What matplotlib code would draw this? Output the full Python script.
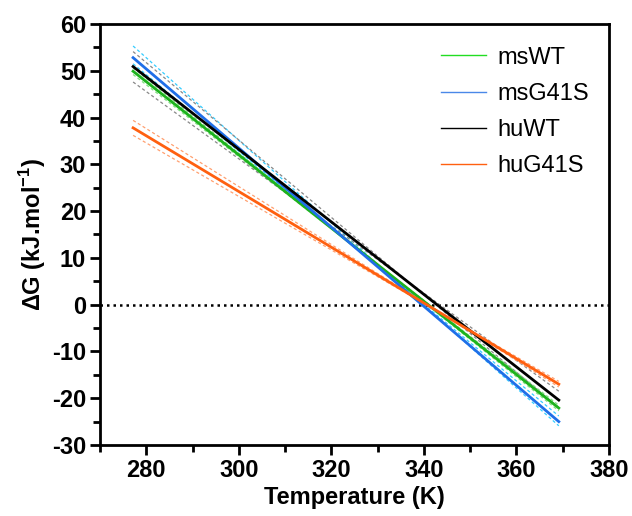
import matplotlib
matplotlib.use("Agg")
import matplotlib.pyplot as plt
from matplotlib.ticker import MultipleLocator

plt.rcParams['font.family'] = ['Liberation Sans', 'DejaVu Sans']
plt.rcParams['axes.unicode_minus'] = False
plt.rcParams['mathtext.fontset'] = 'custom'
plt.rcParams['mathtext.rm'] = 'Liberation Sans'
plt.rcParams['mathtext.bf'] = 'Liberation Sans:bold'

# Temperature range (K)
T_range = [277.15, 369.15]

labels = ["msWT", "msG41S", "huWT", "huG41S"]
colors = ["#1db31d", "#1f6fe8", "#000000", "#ff6010"]
legend_colors = ["#22dd22", "#4a88e8", "#000000", "#ff6010"]

# Fitted line values at the two temperature ends (kJ/mol)
fit_start = [49.9, 52.8, 50.9, 37.8]
fit_end = [-22.1, -25.0, -20.4, -17.0]

# Dashed error lines (two per series) at the ends
err_colors = ["#7fe07f", "#33ccff", "#888888", "#ffa070"]
err_a_start = [50.6, 55.3, 54.1, 39.4]
err_a_end = [-22.7, -25.9, -22.0, -17.6]
err_b_start = [49.2, 51.5, 47.6, 36.2]
err_b_end = [-21.5, -23.8, -18.5, -16.4]

fig = plt.figure(figsize=(6.32, 5.16), dpi=100)
ax = fig.add_axes([100/632, 1-445/516, 509/632, 421/516])

for i in range(4):
    ax.plot(T_range, [err_a_start[i], err_a_end[i]], color=err_colors[i],
            lw=0.9, ls=(0, (2.5, 2)), zorder=2)
    ax.plot(T_range, [err_b_start[i], err_b_end[i]], color=err_colors[i],
            lw=0.9, ls=(0, (2.5, 2)), zorder=2)

handles = []
for i in range(4):
    ax.plot(T_range, [fit_start[i], fit_end[i]], color=colors[i], lw=2.0, zorder=3)
    h, = ax.plot([], [], color=legend_colors[i], lw=1.0, label=labels[i])
    handles.append(h)

ax.axhline(0, color="black", lw=1.8, ls=(0, (1, 1.6)), zorder=1)

ax.set_xlim(270, 380)
ax.set_ylim(-30, 60)
ax.xaxis.set_major_locator(MultipleLocator(20))
ax.xaxis.set_minor_locator(MultipleLocator(10))
ax.yaxis.set_major_locator(MultipleLocator(10))
ax.yaxis.set_minor_locator(MultipleLocator(5))

for s in ax.spines.values():
    s.set_linewidth(2.0)
ax.tick_params(which="major", direction="out", length=7, width=2.0,
               labelsize=17, pad=3)
ax.tick_params(which="minor", direction="out", length=5, width=2.0)
for lab in ax.get_xticklabels() + ax.get_yticklabels():
    lab.set_fontweight("bold")

ax.set_xlabel("Temperature (K)", fontsize=17, fontweight="bold", labelpad=3)
ax.set_ylabel(r"ΔG (kJ.mol$^{\mathbf{-1}}$)", fontsize=17, fontweight="bold",
              labelpad=3)

leg = ax.legend(handles=handles, loc="upper left", frameon=False,
                fontsize=17, handlelength=1.9, handletextpad=0.5,
                labelspacing=0.6, borderpad=0, borderaxespad=0,
                bbox_to_anchor=(0.67, 0.946))

fig.savefig("out.png", dpi=100)
